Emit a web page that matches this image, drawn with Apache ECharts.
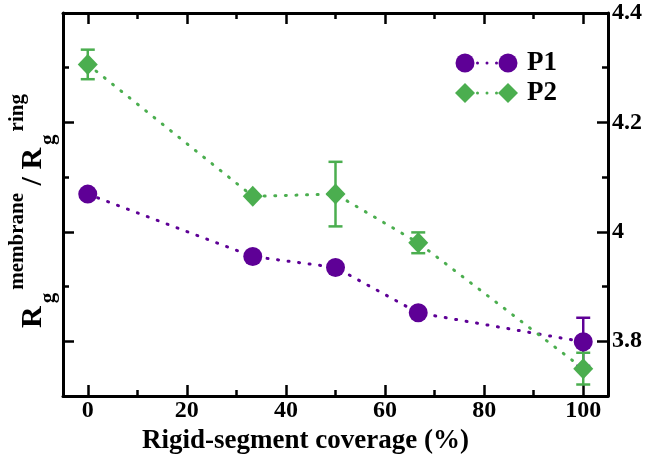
<!DOCTYPE html>
<html>
<head>
<meta charset="utf-8">
<script src="https://cdn.jsdelivr.net/npm/echarts@6/dist/echarts.min.js"></script>
<style>
  html, body { margin: 0; padding: 0; background: #fff; }
  #chart { width: 650px; height: 460px; }
</style>
</head>
<body>
<div id="chart"></div>
<script>
// values
const coverage = [0, 33.3, 50, 66.7, 100];
const p1 = [4.069, 3.955, 3.935, 3.852, 3.799];
const p1Err = [0, 0, 0, 0, 0.044];
const p2 = [4.306, 4.065, 4.069, 3.98, 3.75];
const p2Err = [0.027, 0, 0.059, 0.019, 0.029];

const purple = '#5e0096';
const green = '#4bae4f';
const font = 'Liberation Serif';

const chart = echarts.init(document.getElementById('chart'));

function points(ys) {
  return coverage.map((x, i) => [x, ys[i]]);
}

function errorData(ys, errs) {
  const out = [];
  coverage.forEach((x, i) => {
    if (errs[i] > 0) out.push([x, ys[i] - errs[i], ys[i] + errs[i]]);
  });
  return out;
}

function errorBar(color) {
  return function (params, api) {
    const x = api.value(0);
    const lo = api.coord([x, api.value(1)]);
    const hi = api.coord([x, api.value(2)]);
    const half = 7;
    const style = { stroke: color, lineWidth: 2.5 };
    return {
      type: 'group',
      children: [
        { type: 'line', shape: { x1: lo[0], y1: lo[1], x2: hi[0], y2: hi[1] }, style },
        { type: 'line', shape: { x1: lo[0] - half, y1: lo[1], x2: lo[0] + half, y2: lo[1] }, style },
        { type: 'line', shape: { x1: hi[0] - half, y1: hi[1], x2: hi[0] + half, y2: hi[1] }, style },
      ],
    };
  };
}

const tickCommon = {
  axisLine: { show: true, onZero: false, lineStyle: { color: '#000', width: 3 } },
  axisTick: { show: true, inside: true, length: 11, lineStyle: { color: '#000', width: 2.5 } },
  minorTick: { show: true, splitNumber: 2, length: 6, lineStyle: { color: '#000', width: 2.5 } },
  splitLine: { show: false },
};

const xBase = Object.assign({
  type: 'value',
  min: -5,
  max: 105,
  minInterval: 20,
  maxInterval: 20,
}, tickCommon);

const yBase = Object.assign({
  type: 'value',
  min: 3.7,
  max: 4.4,
  minInterval: 0.2,
  maxInterval: 0.2,
}, tickCommon);

// legend drawn as graphic: symbol, dots, symbol, label
function legendRow(y, color, shape, label) {
  const kids = [];
  [465, 508].forEach((cx) => {
    if (shape === 'circle') {
      kids.push({ type: 'circle', shape: { cx: cx, cy: y, r: 9.5 }, style: { fill: color } });
    } else {
      kids.push({
        type: 'polygon',
        shape: { points: [[cx, y - 10], [cx + 10, y], [cx, y + 10], [cx - 10, y]] },
        style: { fill: color },
      });
    }
  });
  [477.5, 487, 496.5].forEach((dx) => {
    kids.push({ type: 'circle', shape: { cx: dx, cy: y, r: 1.5 }, style: { fill: color } });
  });
  kids.push({
    type: 'text',
    x: 527,
    y: y,
    style: {
      text: label,
      fill: '#000',
      font: 'bold 27px "' + font + '"',
      verticalAlign: 'middle',
    },
  });
  return kids;
}

const option = {
  animation: false,
  backgroundColor: '#fff',
  grid: { left: 63, right: 42, top: 13, bottom: 64 },
  xAxis: [
    Object.assign({}, xBase, {
      position: 'bottom',
      axisLabel: {
        show: true,
        margin: 3,
        showMinLabel: false,
        showMaxLabel: false,
        color: '#000',
        fontFamily: font,
        fontWeight: 'bold',
        fontSize: 24,
      },
      name: 'Rigid-segment coverage (%)',
      nameLocation: 'middle',
      nameGap: 30,
      nameTextStyle: {
        color: '#000',
        fontFamily: font,
        fontWeight: 'bold',
        fontSize: 27,
        padding: [0, 60, 0, 0],
      },
    }),
    Object.assign({}, xBase, {
      position: 'top',
      axisLabel: { show: false },
    }),
  ],
  yAxis: [
    Object.assign({}, yBase, {
      position: 'left',
      axisLabel: { show: false },
    }),
    Object.assign({}, yBase, {
      position: 'right',
      axisLabel: {
        show: true,
        margin: 4,
        showMinLabel: false,
        color: '#000',
        fontFamily: font,
        fontWeight: 'bold',
        fontSize: 24,
        formatter: (v) => String(+v.toFixed(1)),
      },
    }),
  ],
  graphic: [
    {
      type: 'text',
      x: 33,
      y: 211,
      rotation: Math.PI / 2,
      style: {
        text: '{R|R}{sub|g}{sup|membrane}{sl| / }{R|R}{sub|g}{sup|ring}',
        align: 'center',
        verticalAlign: 'middle',
        fill: '#000',
        rich: {
          R: { fontFamily: font, fontWeight: 'bold', fontSize: 30, lineHeight: 52, verticalAlign: 'middle' },
          sl: { fontFamily: font, fontWeight: 'bold', fontSize: 30, lineHeight: 52, verticalAlign: 'middle' },
          sub: { fontFamily: font, fontWeight: 'bold', fontSize: 21, lineHeight: 21, verticalAlign: 'bottom', padding: [0, 3] },
          sup: { fontFamily: font, fontWeight: 'bold', fontSize: 21, lineHeight: 34, verticalAlign: 'top' },
        },
      },
    },
    ...legendRow(63, purple, 'circle', 'P1'),
    ...legendRow(93, green, 'diamond', 'P2'),
  ],
  series: [
    {
      name: 'P1 err',
      type: 'custom',
      renderItem: errorBar(purple),
      encode: { x: 0, y: [1, 2] },
      data: errorData(p1, p1Err),
      z: 1,
    },
    {
      name: 'P2 err',
      type: 'custom',
      renderItem: errorBar(green),
      encode: { x: 0, y: [1, 2] },
      data: errorData(p2, p2Err),
      z: 2,
    },
    {
      name: 'P1',
      type: 'line',
      data: points(p1),
      symbol: 'circle',
      symbolSize: 19,
      itemStyle: { color: purple },
      lineStyle: { color: purple, width: 3, type: [1, 9.6], cap: 'round' },
      z: 3,
    },
    {
      name: 'P2',
      type: 'line',
      data: points(p2),
      symbol: 'diamond',
      symbolSize: [20, 21],
      itemStyle: { color: green },
      lineStyle: { color: green, width: 3, type: [1, 9.6], cap: 'round' },
      z: 4,
    },
  ],
};

chart.setOption(option);
</script>
</body>
</html>
